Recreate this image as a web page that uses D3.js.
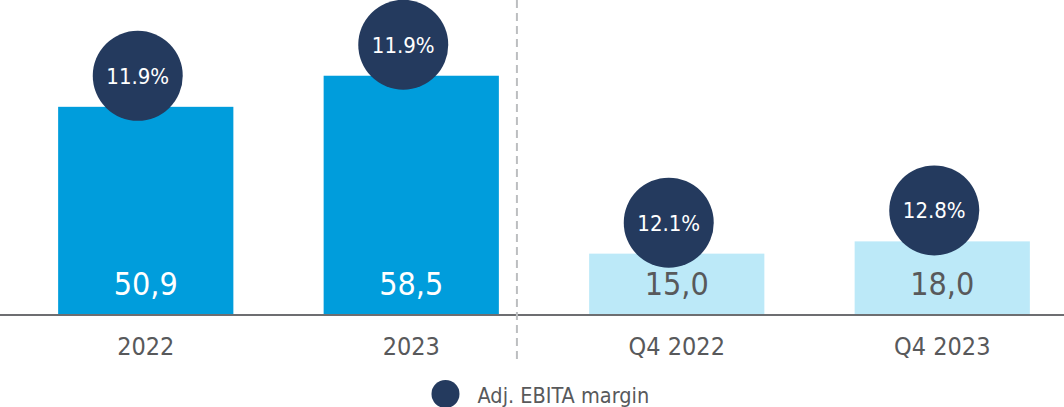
<!DOCTYPE html>
<html>
<head>
<meta charset="utf-8">
<script src="https://cdn.jsdelivr.net/npm/d3@7"></script>
<style>
  body { margin: 0; background: #fff; }
  svg { display: block; font-family: 'DejaVu Sans Condensed', 'DejaVu Sans', sans-serif; }
</style>
</head>
<body>
<div id="chart"></div>
<script>
// chart data
const categories = ['2022', '2023', 'Q4 2022', 'Q4 2023'];
const sales = [50.9, 58.5, 15.0, 18.0];
const margins = ['11.9%', '11.9%', '12.1%', '12.8%'];
const periodType = ['year', 'year', 'quarter', 'quarter'];
const legendLabel = 'Adj. EBITA margin';

const width = 1064, height = 407;
const baseline = 315;

const colors = {
  year: '#009ddc',
  quarter: '#bce9f8',
  circle: '#243a5e',
  axis: '#6d6e71',
  text: '#58595b'
};

const svg = d3.select('#chart')
  .append('svg')
  .attr('width', width)
  .attr('height', height);

const x = d3.scaleBand()
  .domain(categories)
  .range([13, 1075])
  .paddingInner(0.34)
  .paddingOuter(0.17);

const y = d3.scaleLinear()
  .domain([0, 60])
  .range([baseline, 69.6]);

const rows = categories.map((c, i) => ({
  cat: c, value: sales[i], margin: margins[i], type: periodType[i]
}));

// bars
svg.append('g')
  .selectAll('rect')
  .data(rows)
  .join('rect')
  .attr('x', d => x(d.cat))
  .attr('y', d => y(d.value))
  .attr('width', x.bandwidth())
  .attr('height', d => y(0) - y(d.value))
  .attr('fill', d => colors[d.type]);

// value labels inside bars
svg.append('g')
  .selectAll('text')
  .data(rows)
  .join('text')
  .attr('x', d => x(d.cat) + x.bandwidth() / 2)
  .attr('y', baseline - 20)
  .attr('text-anchor', 'middle')
  .attr('font-size', 32)
  .attr('fill', d => d.type === 'year' ? '#fff' : colors.text)
  .text(d => d3.format('.1f')(d.value).replace('.', ','));

// axis line
svg.append('line')
  .attr('x1', 0).attr('x2', width)
  .attr('y1', baseline).attr('y2', baseline)
  .attr('stroke', colors.axis)
  .attr('stroke-width', 2);

// category labels
const xAxis = d3.axisBottom(x).tickSize(0).tickPadding(22);
svg.append('g')
  .attr('transform', `translate(0,${baseline})`)
  .call(xAxis)
  .attr('font-family', null)
  .attr('font-size', null)
  .call(g => g.select('.domain').remove())
  .selectAll('text')
  .attr('font-size', 25)
  .attr('fill', colors.text);

// dashed separator between years and quarters (sits closer to the annual bars)
const gap = x('Q4 2022') - (x('2023') + x.bandwidth());
const sepX = x('2023') + x.bandwidth() + gap * 0.2;
svg.append('line')
  .attr('x1', sepX).attr('x2', sepX)
  .attr('y1', 0).attr('y2', 363)
  .attr('stroke', '#bcbec0')
  .attr('stroke-width', 2)
  .attr('stroke-dasharray', '8,5');

// margin bubbles
const r = 45;
const bubbles = svg.append('g')
  .selectAll('g')
  .data(rows)
  .join('g')
  .attr('transform', d => `translate(${x(d.cat) + x.bandwidth() / 2 - 8},${y(d.value) - 31})`);

bubbles.append('circle')
  .attr('r', r)
  .attr('fill', colors.circle);

bubbles.append('text')
  .attr('text-anchor', 'middle')
  .attr('dy', '0.36em')
  .attr('font-size', 22)
  .attr('fill', '#fff')
  .text(d => d.margin);

// legend
const legend = svg.append('g').attr('transform', 'translate(445.5,394)');
legend.append('circle').attr('r', 14).attr('fill', colors.circle);
legend.append('text')
  .attr('x', 32)
  .attr('y', 9)
  .attr('font-size', 21.5)
  .attr('fill', colors.text)
  .text(legendLabel);
</script>
</body>
</html>
